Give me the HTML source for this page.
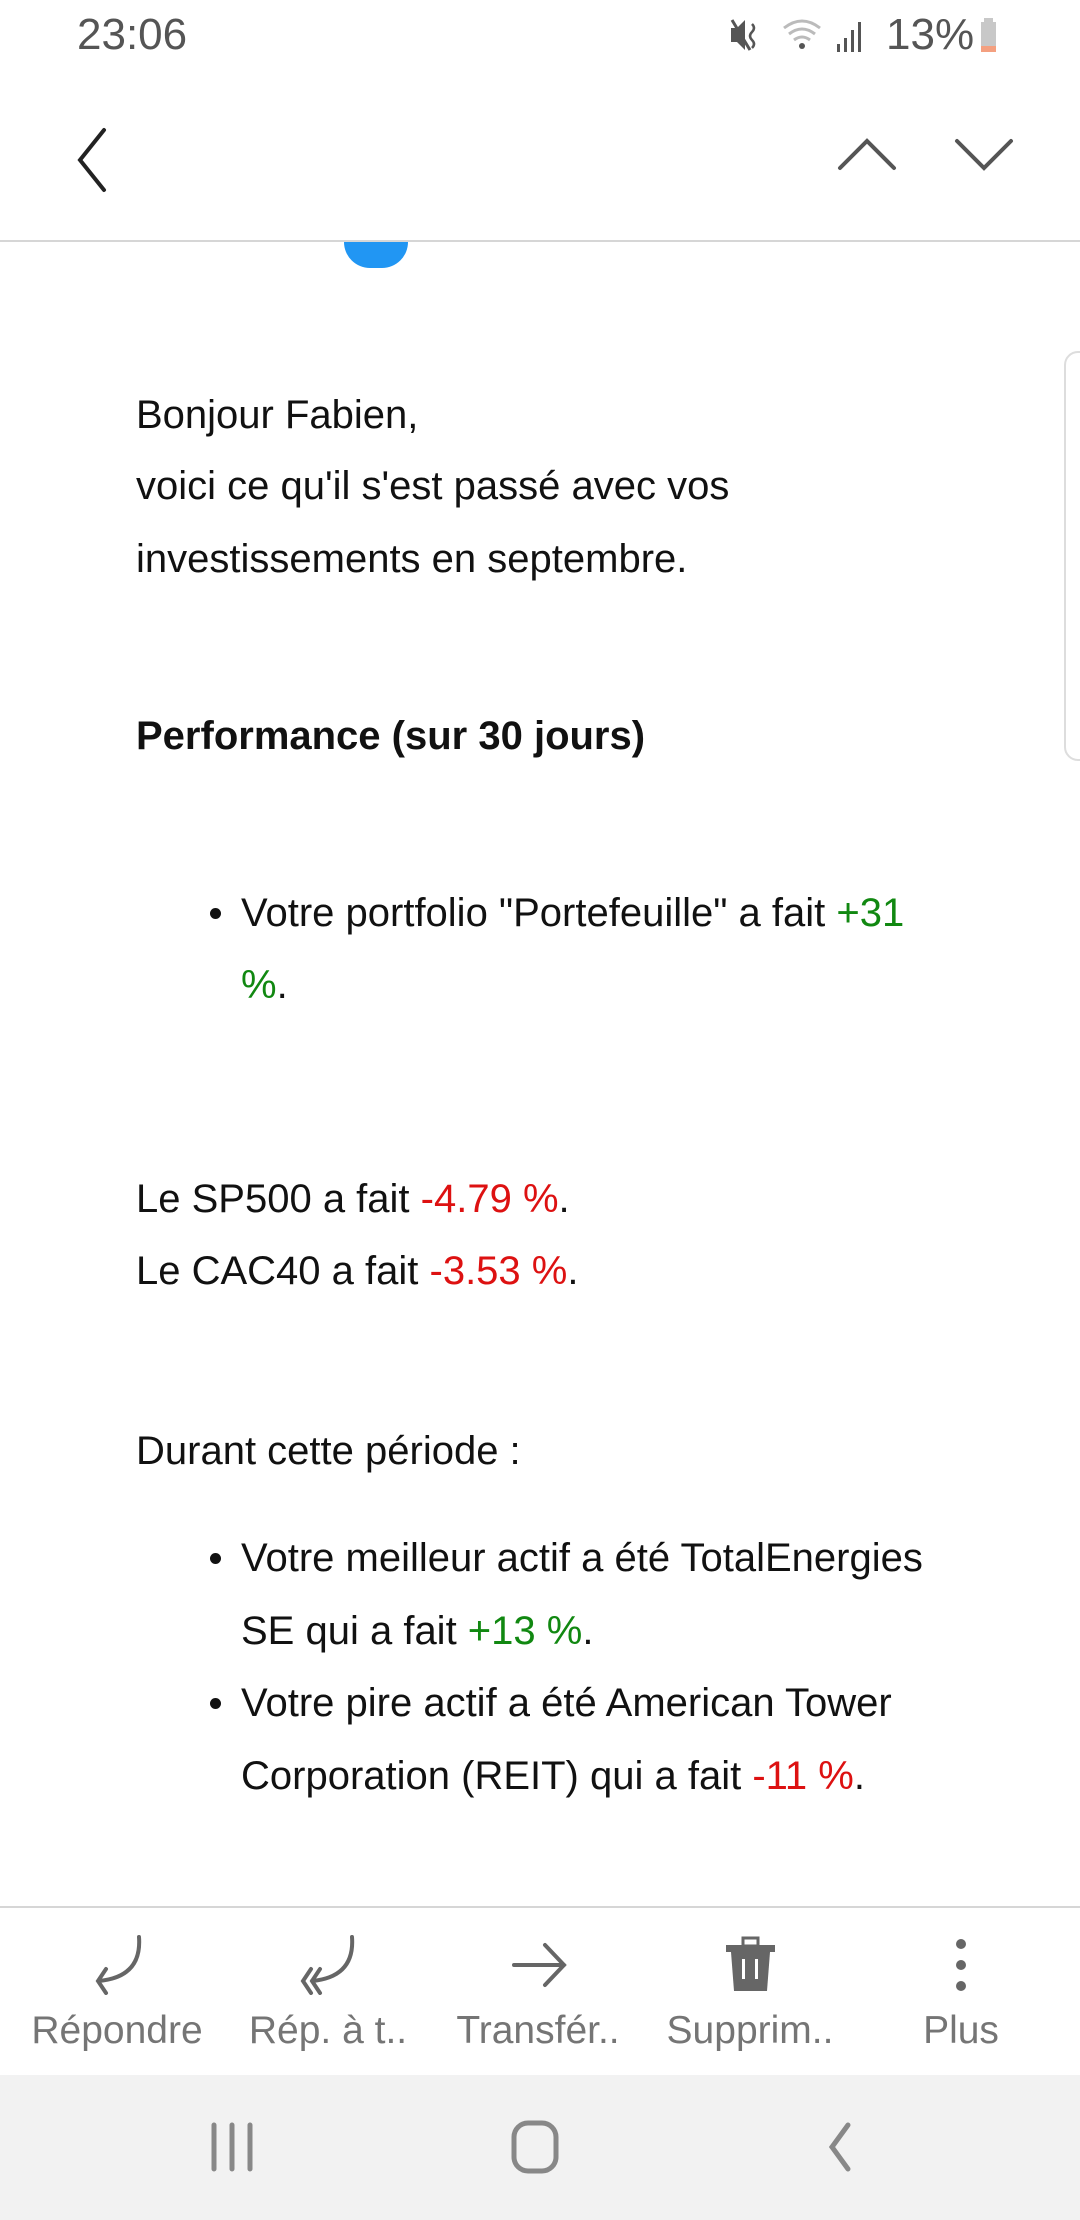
<!DOCTYPE html>
<html><head><meta charset="utf-8"><style>
html,body{margin:0;padding:0;width:1080px;height:2220px;background:#fff;overflow:hidden;font-family:"Liberation Sans",Arial,sans-serif}
.t{position:absolute;font-size:40px;color:#111;white-space:nowrap;line-height:46px}
.g{color:#118811}.r{color:#dd1111}
.b{position:absolute;width:11px;height:11px;border-radius:50%;background:#111;left:210px}
.lab{position:absolute;top:2008px;font-size:39px;color:#757575;width:240px;text-align:center;line-height:46px}
</style></head><body>
<div class="t" style="left:77px;top:12px;font-size:44px;color:#555">23:06</div>
<svg style="position:absolute;left:728px;top:16px" width="290" height="42">
 <path d="M3 12h6l8-8v30l-8-8H3z" fill="#555"/><path d="M4 4l18 30" stroke="#555" stroke-width="3"/>
 <path d="M24 8q4 4 0 8q-4 4 0 8q4 4 0 8" stroke="#555" stroke-width="2.5" fill="none"/>
 <path d="M56 12q18-14 36 0M61 18q13-10 26 0M66 24q8-6 16 0" stroke="#bbb" stroke-width="3" fill="none"/>
 <circle cx="74" cy="30" r="3" fill="#555"/>
 <rect x="109" y="28" width="3" height="8" fill="#555"/><rect x="116" y="22" width="3" height="14" fill="#555"/><rect x="123" y="14" width="3" height="22" fill="#555"/><rect x="130" y="6" width="3" height="30" fill="#555"/>
 <rect x="253" y="6" width="15" height="30" fill="#c8c8c8"/><rect x="256" y="2" width="9" height="5" fill="#c8c8c8"/><rect x="253" y="30" width="15" height="6" fill="#f4a080"/>
</svg>
<div class="t" style="left:886px;top:12px;font-size:44px;color:#555">13%</div>
<svg style="position:absolute;left:0;top:120px" width="1080" height="80">
 <path d="M104 10L80 40L104 70" stroke="#222" stroke-width="4" fill="none" stroke-linecap="round"/>
 <path d="M840 48L867 21L894 48" stroke="#555" stroke-width="4" fill="none" stroke-linecap="round"/>
 <path d="M957 21L984 48L1011 21" stroke="#555" stroke-width="4" fill="none" stroke-linecap="round"/>
</svg>
<div style="position:absolute;left:0;top:240px;width:1080px;height:2px;background:#d6d6d6"></div>
<div style="position:absolute;left:344px;top:242px;width:64px;height:26px;background:#2196f3;border-radius:0 0 32px 32px"></div>
<div style="position:absolute;left:1064px;top:351px;width:30px;height:410px;border:2px solid #ddd;border-radius:14px;box-sizing:border-box"></div>

<div class="t" style="left:136px;top:392px">Bonjour Fabien,</div>
<div class="t" style="left:136px;top:463px">voici ce qu'il s'est passé avec vos</div>
<div class="t" style="left:136px;top:536px">investissements en septembre.</div>
<div class="t" style="left:136px;top:713px;font-weight:bold">Performance (sur 30 jours)</div>
<div class="b" style="top:908px"></div>
<div class="t" style="left:241px;top:890px">Votre portfolio "Portefeuille" a fait <span class="g">+31</span></div>
<div class="t" style="left:241px;top:962px"><span class="g">%</span>.</div>
<div class="t" style="left:136px;top:1176px">Le SP500 a fait <span class="r">-4.79 %</span>.</div>
<div class="t" style="left:136px;top:1248px">Le CAC40 a fait <span class="r">-3.53 %</span>.</div>
<div class="t" style="left:136px;top:1428px">Durant cette période :</div>
<div class="b" style="top:1553px"></div>
<div class="t" style="left:241px;top:1535px">Votre meilleur actif a été TotalEnergies</div>
<div class="t" style="left:241px;top:1608px">SE qui a fait <span class="g">+13 %</span>.</div>
<div class="b" style="top:1698px"></div>
<div class="t" style="left:241px;top:1680px">Votre pire actif a été American Tower</div>
<div class="t" style="left:241px;top:1753px">Corporation (REIT) qui a fait <span class="r">-11 %</span>.</div>

<div style="position:absolute;left:0;top:1906px;width:1080px;height:2px;background:#d6d6d6"></div>
<svg style="position:absolute;left:0;top:1935px" width="1080" height="60">
 <g stroke="#666" stroke-width="4" fill="none" stroke-linecap="round">
  <path d="M139 2q3 40-40 44M106 34l-8 12l8 12"/>
  <path d="M352 2q3 40-40 44M320 34l-8 12l8 12M311 34l-8 12l8 12"/>
  <path d="M514 30h50M545 10l19 20l-19 20"/>
 </g>
 <rect x="726" y="10" width="49" height="7" fill="#666"/><rect x="743" y="3" width="15" height="8" fill="none" stroke="#666" stroke-width="3"/>
 <path d="M731 17h39l-3 39h-33z" fill="#666"/><rect x="742" y="24" width="3" height="20" fill="#fff"/><rect x="755" y="24" width="3" height="20" fill="#fff"/>
 <circle cx="961" cy="9" r="5" fill="#666"/><circle cx="961" cy="30" r="5" fill="#666"/><circle cx="961" cy="51" r="5" fill="#666"/>
</svg>
<div class="lab" style="left:-3px">Répondre</div>
<div class="lab" style="left:208px">Rép. à t..</div>
<div class="lab" style="left:418px">Transfér..</div>
<div class="lab" style="left:630px">Supprim..</div>
<div class="lab" style="left:841px">Plus</div>

<div style="position:absolute;left:0;top:2075px;width:1080px;height:145px;background:#f2f2f2"></div>
<svg style="position:absolute;left:0;top:2075px" width="1080" height="145">
 <g stroke="#888" stroke-width="5" fill="none" stroke-linecap="round">
  <path d="M214 50v44M232 50v44M250 50v44"/>
  <rect x="514" y="48" width="42" height="48" rx="14"/>
  <path d="M848 50l-16 22l16 22"/>
 </g>
</svg>
</body></html>
